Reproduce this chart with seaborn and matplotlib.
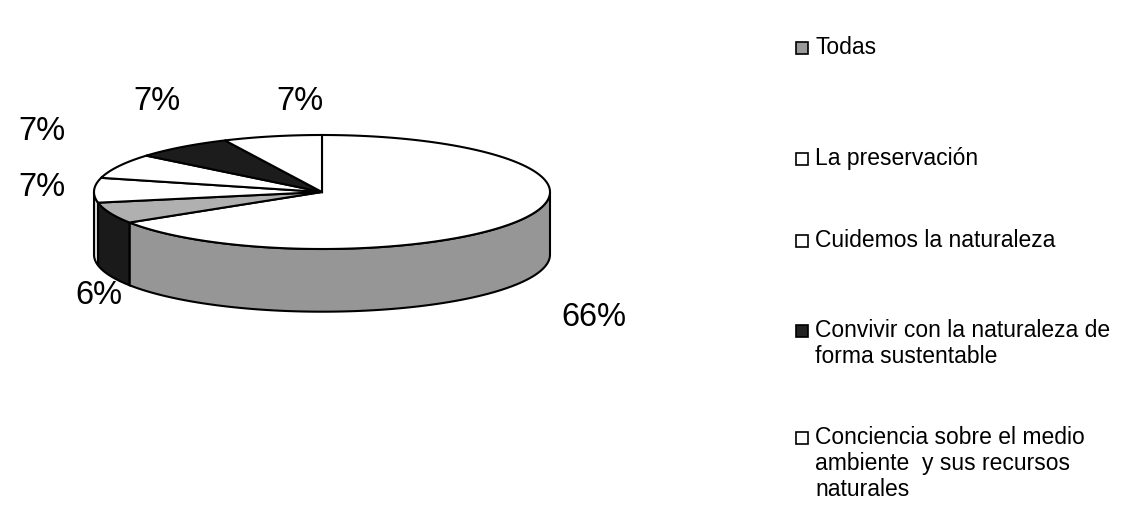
import numpy as np
import matplotlib
matplotlib.use("Agg")
import matplotlib.pyplot as plt
import seaborn as sns
from matplotlib.patches import Rectangle

# slices clockwise from 12 o'clock; the first one has no visible legend entry
categories = ["", "Todas", "La preservación", "Cuidemos la naturaleza",
              "Convivir con la naturaleza de\nforma sustentable",
              "Conciencia sobre el medio\nambiente  y sus recursos\nnaturales"]
percent = [66, 6, 7, 7, 7, 7]
pct_labels = ["66%", "6%", "7%", "7%", "7%", "7%"]

top_colors = ["#ffffff", "#b0b0b0", "#ffffff", "#ffffff", "#1c1c1c", "#ffffff"]
side_colors = ["#969696", "#1a1a1a", "#d9d9d9", "#d9d9d9", "#111111", "#d9d9d9"]
legend_colors = ["#ffffff", "#9a9a9a", "#ffffff", "#ffffff", "#222222", "#ffffff"]

# where Excel put the percentage labels (pixel centres)
label_pos = [(594, 318), (99, 295), (42, 188), (42, 132), (157, 102), (300, 102)]

sns.set_theme(style="white")
plt.rcParams["font.family"] = ["Liberation Sans", "DejaVu Sans"]

W, H = 1127, 508
fig = plt.figure(figsize=(W / 100, H / 100), dpi=100)

# pie axes: 1 data unit = horizontal radius
cx_px, cy_px, r_px = 322, 192, 228
ax = fig.add_axes([0, 0, 1, 1])
ax.set_xlim(-cx_px / r_px, (W - cx_px) / r_px)
ax.set_ylim(-(H - cy_px) / r_px, cy_px / r_px)
ax.axis("off")

rx, ry, depth = 1.0, 0.25, 0.275


def rim(t_deg, dy=0.0):
    t = np.radians(t_deg)
    return rx * np.cos(t), ry * np.sin(t) + dy


def front_parts(lo, hi):
    parts = []
    for k in (-1, 0, 1):
        a, b = max(lo, 180 + 360 * k), min(hi, 360 + 360 * k)
        if a < b:
            parts.append((a, b))
    return parts


bounds = 90 - np.concatenate([[0], np.cumsum(percent)]) * 3.6

# side faces first
for i in range(len(percent)):
    hi, lo = bounds[i], bounds[i + 1]
    for a, b in front_parts(lo, hi):
        t = np.linspace(a, b, 80)
        x1, y1 = rim(t)
        x2, y2 = rim(t[::-1], -depth)
        ax.fill(np.r_[x1, x2], np.r_[y1, y2], facecolor=side_colors[i],
                edgecolor="black", linewidth=1.5, zorder=2)

# top faces
for i in range(len(percent)):
    hi, lo = bounds[i], bounds[i + 1]
    t = np.linspace(lo, hi, 200)
    x, y = rim(t)
    ax.fill(np.r_[0, x, 0], np.r_[0, y, 0], facecolor=top_colors[i],
            edgecolor="black", linewidth=1.5, zorder=3)

# overlay axes in pixel units for labels and legend
lax = fig.add_axes([0, 0, 1, 1])
lax.set_xlim(0, W)
lax.set_ylim(H, 0)
lax.axis("off")

for i in range(len(percent)):
    lx, ly = label_pos[i]
    lax.text(lx, ly, pct_labels[i], fontsize=23.5, ha="center", va="center",
             color="black")

# legend, drawn manually so the square sits on the first line
legend_top = [36, 147, 229, 319, 426]
for j, i in enumerate(range(1, len(categories))):
    y0 = legend_top[j]
    lax.add_patch(Rectangle((796, y0 + 6), 12, 12, facecolor=legend_colors[i],
                            edgecolor="black", linewidth=1.2))
    lax.text(815, y0, categories[i], fontsize=16.5, ha="left", va="top",
             linespacing=1.17, color="black")

fig.savefig("out.png", dpi=100, facecolor="white")
